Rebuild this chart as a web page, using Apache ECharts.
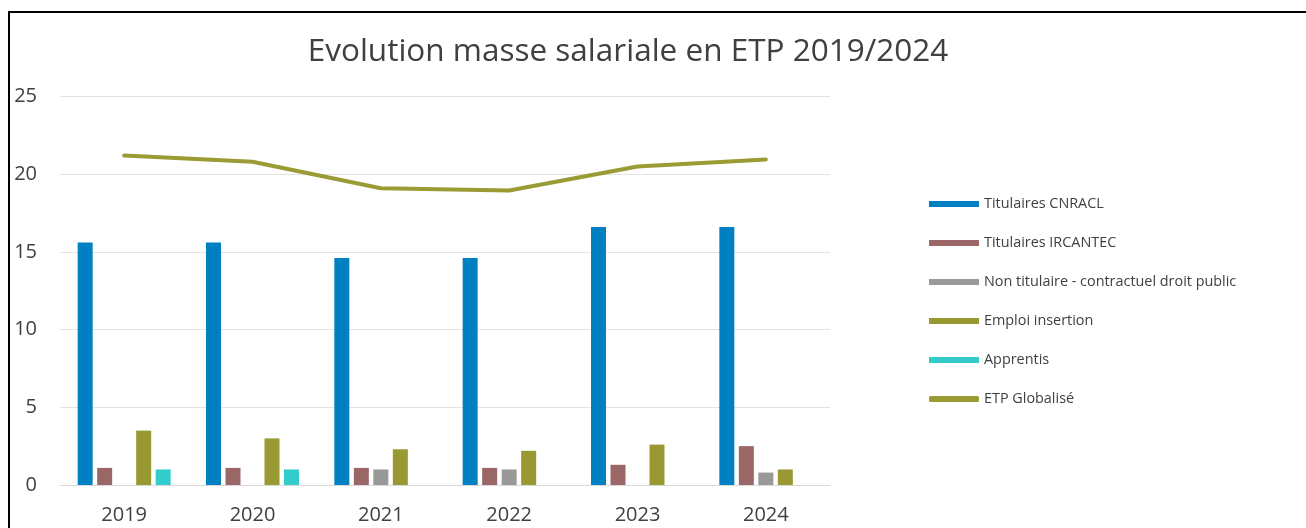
<!DOCTYPE html>
<html>
<head>
<meta charset="utf-8">
<script src="https://cdn.jsdelivr.net/npm/echarts@6/dist/echarts.min.js"></script>
<style>
  html, body { margin: 0; padding: 0; background: #fff; overflow: hidden; }
  #frame {
    position: absolute; left: 8px; top: 11px;
    width: 1400px; height: 600px;
    border: 2px solid #000; box-sizing: border-box;
  }
  #chart { position: absolute; left: 0; top: 0; width: 1306px; height: 528px; }
</style>
</head>
<body>
<div id="frame"></div>
<div id="chart"></div>
<script>
// données
var annees = ['2019', '2020', '2021', '2022', '2023', '2024'];
var titulairesCNRACL = [15.6, 15.6, 14.6, 14.6, 16.6, 16.6];
var titulairesIRCANTEC = [1.1, 1.1, 1.1, 1.1, 1.3, 2.5];
var nonTitulaire = [null, null, 1.0, 1.0, null, 0.8];
var emploiInsertion = [3.5, 3.0, 2.3, 2.2, 2.6, 1.0];
var apprentis = [1.0, 1.0, null, null, null, null];
var etpGlobalise = [21.2, 20.8, 19.1, 18.95, 20.5, 20.95];

var police = "'Open Sans', 'Liberation Sans', sans-serif";
var gris = '#404040';

var chart = echarts.init(document.getElementById('chart'));

function barre(nom, data, couleur) {
  return {
    name: nom,
    type: 'bar',
    data: data,
    barWidth: 15,
    barGap: '30%',
    itemStyle: { color: couleur },
    emphasis: { disabled: true }
  };
}

chart.setOption({
  animation: false,
  title: {
    text: 'Evolution masse salariale en ETP 2019/2024',
    left: 623,
    textAlign: 'center',
    top: 31,
    textStyle: { fontFamily: police, fontSize: 31.5, fontWeight: 'normal', color: gris }
  },
  legend: {
    orient: 'vertical',
    left: 924,
    top: 191,
    itemWidth: 50,
    itemHeight: 6,
    itemGap: 23,
    icon: 'rect',
    textStyle: { fontFamily: police, fontSize: 14.4, color: gris, lineHeight: 16 },
    data: ['Titulaires CNRACL', 'Titulaires IRCANTEC', 'Non titulaire - contractuel droit public',
           'Emploi insertion', 'Apprentis', { name: 'ETP Globalisé', icon: 'roundRect' }]
  },
  grid: { left: 60, right: 476, top: 96.5, bottom: 43 },
  xAxis: {
    type: 'category',
    data: annees,
    axisLine: { lineStyle: { color: '#d9d9d9', width: 1 } },
    axisTick: { show: false },
    axisLabel: { fontFamily: police, fontSize: 20, color: gris, margin: 20 }
  },
  yAxis: {
    type: 'value',
    min: 0,
    max: 25,
    interval: 5,
    axisLine: { show: false },
    axisTick: { show: false },
    splitLine: { lineStyle: { color: '#e3e3e3', width: 1 } },
    axisLabel: { fontFamily: police, fontSize: 20, color: gris, margin: 23 }
  },
  series: [
    barre('Titulaires CNRACL', titulairesCNRACL, '#0080c3'),
    barre('Titulaires IRCANTEC', titulairesIRCANTEC, '#9b6766'),
    barre('Non titulaire - contractuel droit public', nonTitulaire, '#999999'),
    barre('Emploi insertion', emploiInsertion, '#999933'),
    barre('Apprentis', apprentis, '#33cccc'),
    {
      name: 'ETP Globalisé',
      type: 'line',
      data: etpGlobalise,
      symbol: 'none',
      lineStyle: { color: '#9a9b34', width: 4, cap: 'round', join: 'round' },
      itemStyle: { color: '#9a9b34' },
      emphasis: { disabled: true }
    }
  ]
});
</script>
</body>
</html>
